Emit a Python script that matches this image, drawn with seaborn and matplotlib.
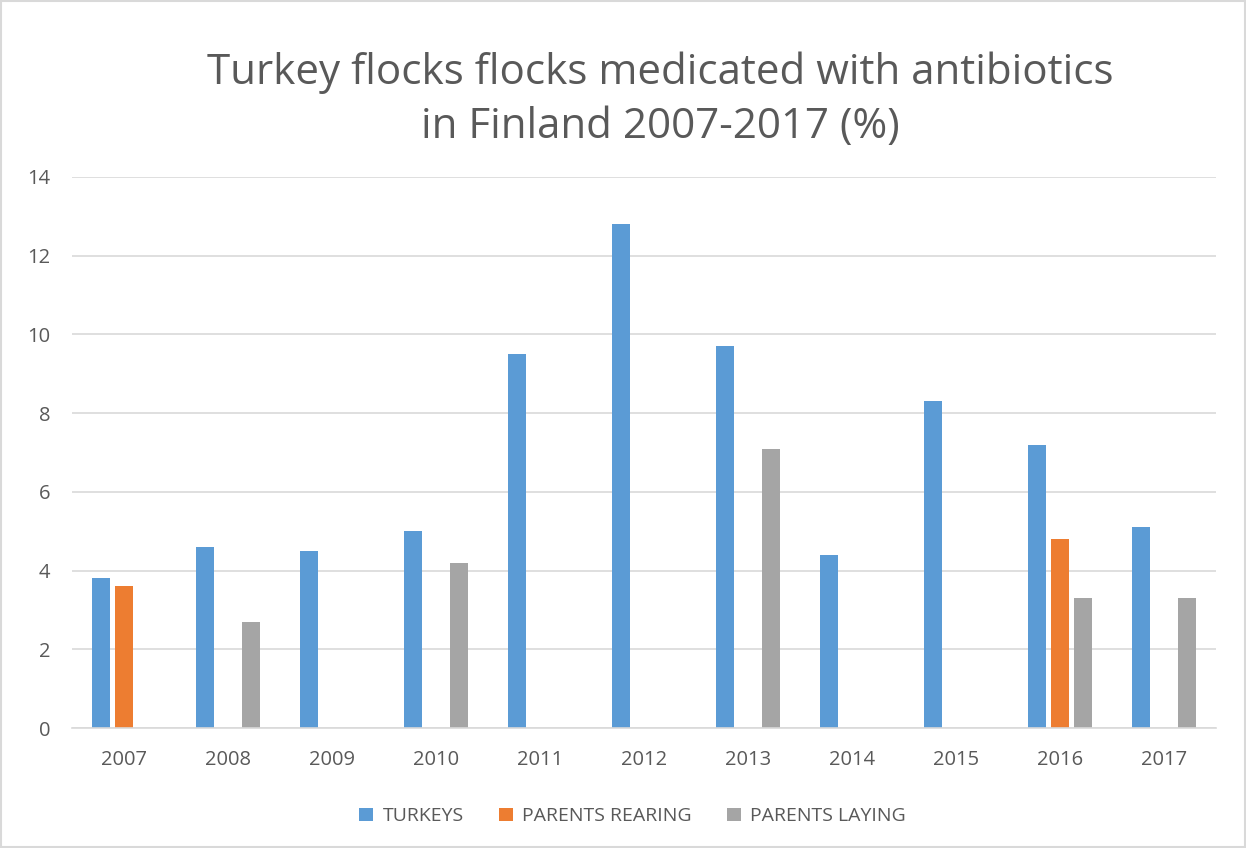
import numpy as np
import pandas as pd
import seaborn as sns
import matplotlib.pyplot as plt
from matplotlib.patches import Rectangle

years = ['2007', '2008', '2009', '2010', '2011', '2012', '2013', '2014', '2015', '2016', '2017']
turkeys = [3.8, 4.6, 4.5, 5.0, 9.5, 12.8, 9.7, 4.4, 8.3, 7.2, 5.1]
parents_rearing = [3.6, 0, 0, 0, 0, 0, 0, 0, 0, 4.8, 0]
parents_laying = [0, 2.7, 0, 4.2, 0, 0, 7.1, 0, 0, 3.3, 3.3]

series = ['TURKEYS', 'PARENTS REARING', 'PARENTS LAYING']
colors = ['#5b9bd5', '#ed7d31', '#a5a5a5']

df = pd.DataFrame({'year': years * 3,
                   'value': turkeys + parents_rearing + parents_laying,
                   'group': [s for s in series for _ in years]})

sns.set_style('white')
plt.rcParams['font.family'] = ['Open Sans', 'DejaVu Sans']

fig = plt.figure(figsize=(12.46, 8.48), dpi=100)
ax = fig.add_axes([0.058, 0.1415, 0.918, 0.6498])

sns.barplot(data=df, x='year', y='value', hue='group', hue_order=series,
            palette=colors, saturation=1, width=0.66, gap=0.22, linewidth=0, ax=ax)

ax.set_ylim(0, 14)
ax.set_yticks(range(0, 15, 2))
ax.set_xlim(-0.5, len(years) - 0.5)
ax.yaxis.grid(True, color='#d9d9d9', linewidth=1.2)
ax.set_axisbelow(True)
for s in ['top', 'right', 'left']:
    ax.spines[s].set_visible(False)
ax.spines['bottom'].set_color('#d9d9d9')
ax.spines['bottom'].set_linewidth(1.2)
ax.tick_params(axis='both', length=0, labelsize=14.5, colors='#595959')
ax.tick_params(axis='x', pad=16)
ax.tick_params(axis='y', pad=16)
ax.set_xlabel('')
ax.set_ylabel('')

ax.legend(loc='center', bbox_to_anchor=(0.49, -0.16), ncol=3, frameon=False,
          fontsize=14, labelcolor='#595959', handlelength=0.7, handleheight=0.7,
          columnspacing=1.8, handletextpad=0.5)

fig.text(0.53, 0.882, 'Turkey flocks flocks medicated with antibiotics\nin Finland 2007-2017 (%)',
         ha='center', va='center', fontsize=30.3, color='#595959', linespacing=1.38)

fig.patches.append(Rectangle((0.001, 0.001), 0.998, 0.998, transform=fig.transFigure,
                             fill=False, edgecolor='#d9d9d9', linewidth=1.5))

plt.savefig('out.png', dpi=100)
